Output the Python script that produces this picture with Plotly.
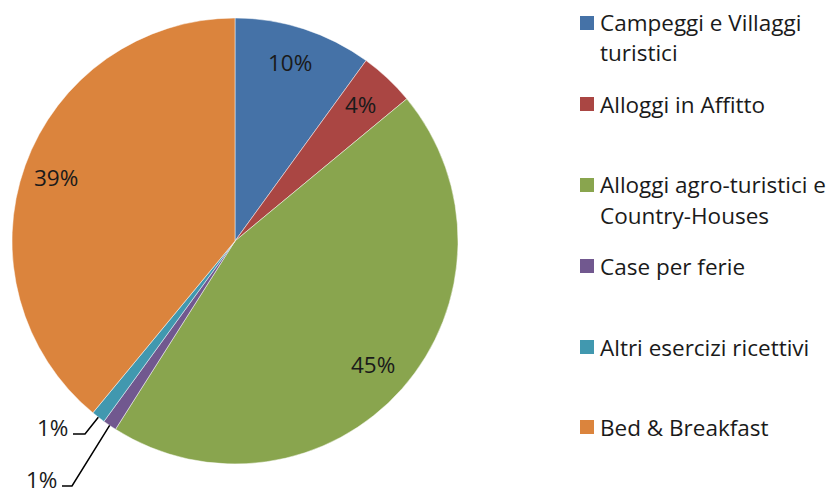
import math
import plotly.graph_objects as go

# ---- data ----
categories = ["Campeggi e Villaggi turistici", "Alloggi in Affitto",
              "Alloggi agro-turistici e Country-Houses", "Case per ferie",
              "Altri esercizi ricettivi", "Bed & Breakfast"]
legend_lines = [["Campeggi e Villaggi", "turistici"], ["Alloggi in Affitto"],
                ["Alloggi agro-turistici e", "Country-Houses"], ["Case per ferie"],
                ["Altri esercizi ricettivi"], ["Bed & Breakfast"]]
values = [10, 4, 45, 1, 1, 39]
colors = ["#4572A7", "#AA4643", "#89A54E", "#71588F", "#4198AF", "#DB843D"]

W, H = 836, 489
CX, CY, R = 235, 241, 223
FONT = "Open Sans"
FS = 22.5

def px(x):
    return x / W

def py(y):
    return 1 - y / H

fig = go.Figure(go.Pie(
    labels=categories, values=values, sort=False, direction="clockwise",
    rotation=0, textinfo="none", hoverinfo="label+percent",
    marker=dict(colors=colors, line=dict(color="rgba(255,255,255,0.6)", width=0.8)),
    domain=dict(x=[px(CX - R), px(CX + R)], y=[py(CY + R), py(CY - R)]),
    showlegend=False,
))

annotations = []
shapes = []
total = sum(values)
cum = 0
# elbow and end points for small-slice leader lines (layout)
leaders = {4: ((85, 434), (73, 434)), 3: ((72, 486), (62, 486))}
for i, v in enumerate(values):
    mid = (cum + v / 2) / total * 2 * math.pi
    cum += v
    pct = f"{round(v / total * 100)}%"
    if i in leaders:
        sx = CX + R * math.sin(mid)
        sy = CY - R * math.cos(mid)
        (ex, ey), (fx, fy) = leaders[i]
        shapes.append(dict(type="path", xref="paper", yref="paper",
                           path=f"M {px(sx)} {py(sy)} L {px(ex)} {py(ey)} L {px(fx)} {py(fy)}",
                           line=dict(color="black", width=1.5)))
        annotations.append(dict(x=px(fx - 3), y=py(fy - 7), xref="paper", yref="paper",
                                text=pct, showarrow=False, xanchor="right", yanchor="middle",
                                font=dict(family=FONT, size=FS, color="#1a1a1a")))
    else:
        rr = 0.84 * R
        lx = CX + rr * math.sin(mid) - 3
        ly = CY - rr * math.cos(mid)
        annotations.append(dict(x=px(lx), y=py(ly), xref="paper", yref="paper",
                                text=pct, showarrow=False, xanchor="center", yanchor="middle",
                                font=dict(family=FONT, size=FS, color="#1a1a1a")))

# custom legend (layout positions)
legend_y = [23, 104, 185, 266, 347, 427]
for i, lines in enumerate(legend_lines):
    y0 = legend_y[i]
    shapes.append(dict(type="rect", xref="paper", yref="paper",
                       x0=px(580), x1=px(594), y0=py(y0 - 7), y1=py(y0 + 7),
                       fillcolor=colors[i], line=dict(width=0)))
    for j, t in enumerate(lines):
        annotations.append(dict(x=px(598), y=py(y0 + 30 * j), xref="paper", yref="paper",
                                text=t, showarrow=False, xanchor="left", yanchor="middle",
                                font=dict(family=FONT, size=FS, color="#1a1a1a")))

fig.update_layout(width=W, height=H, margin=dict(l=0, r=0, t=0, b=0),
                  paper_bgcolor="white", plot_bgcolor="white",
                  annotations=annotations, shapes=shapes)
fig.write_html("out.html", config={"displayModeBar": False},
               post_script="document.body.style.margin='0';")
